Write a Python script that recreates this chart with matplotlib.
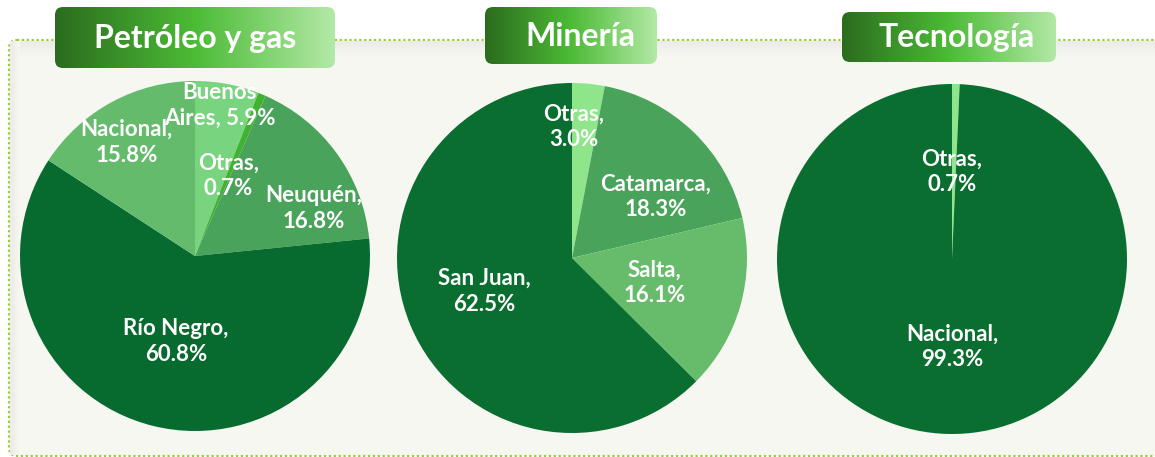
import numpy as np
import matplotlib
matplotlib.use("Agg")
import matplotlib.pyplot as plt
from matplotlib.patches import FancyBboxPatch
from matplotlib.colors import LinearSegmentedColormap

# ---------------- data ----------------
petroleo_names = ["Buenos Aires", "Otras", "Neuquén", "Río Negro", "Nacional"]
petroleo_values = [5.9, 0.7, 16.8, 60.8, 15.8]

mineria_names = ["Otras", "Catamarca", "Salta", "San Juan"]
mineria_values = [3.0, 18.3, 16.1, 62.5]

tecnologia_names = ["Otras", "Nacional"]
tecnologia_values = [0.7, 99.3]

titles = ["Petróleo y gas", "Minería", "Tecnología"]

# ---------------- style / layout ----------------
W, H = 1155, 457
DARK = "#076a2e"
petroleo_colors = ["#79d47f", "#3fb230", "#4aa35a", DARK, "#63bb6b"]
mineria_colors = ["#8fe58a", "#4aa35a", "#67bc6c", "#0a6e30"]
tecnologia_colors = ["#8fe58a", "#0a6e30"]

# label text anchor offsets (in pie radius units)
petroleo_lpos = [(0.14, 0.86), (0.19, 0.46), (0.68, 0.27), (-0.11, -0.49), (-0.39, 0.65)]
mineria_lpos = [(0.01, 0.75), (0.48, 0.35), (0.47, -0.14), (-0.50, -0.19)]
tecnologia_lpos = [(0.0, 0.50), (0.0, -0.50)]
petroleo_wrap = [True, False, False, False, False]

pie_centers = [(195, 256), (572, 258), (952, 259)]
pie_r = 175
title_boxes = [(55, 7, 280, 61), (485, 7, 172, 57), (842, 12, 214, 50)]
title_text_dx = [0, 9, 8]

fig = plt.figure(figsize=(W / 100, H / 100), dpi=100)
fig.patch.set_facecolor("white")

# background axes in pixel coordinates
bg = fig.add_axes([0, 0, 1, 1])
bg.set_xlim(0, W)
bg.set_ylim(H, 0)
bg.axis("off")

# panel background with dotted border
panel = FancyBboxPatch((9, 40), W + 20, 416, boxstyle="round,pad=0,rounding_size=8",
                       facecolor="#f7f7f2", edgecolor="#9acd32", linewidth=1.6,
                       linestyle=(0, (1, 1.2)), zorder=1)
bg.add_patch(panel)
# soft shadow under top border
shade = np.linspace(0, 1, 50).reshape(-1, 1)
shade_cmap = LinearSegmentedColormap.from_list("sh", ["#ebebe7", "#f7f7f2"])
bg.imshow(shade, extent=(11, W, 56, 41), cmap=shade_cmap, aspect="auto", zorder=1.5,
          interpolation="bilinear")
shade2 = np.linspace(0, 1, 50).reshape(1, -1)
bg.imshow(shade2, extent=(10, 20, 455, 41), cmap=shade_cmap, aspect="auto", zorder=1.5,
          interpolation="bilinear")

# title boxes with gradient
grad_cmap = LinearSegmentedColormap.from_list(
    "g", [(0.0, "#2b6c1e"), (0.5, "#4cbb36"), (1.0, "#b3e9a6")])
gradient = np.linspace(0, 1, 256).reshape(1, -1)
for (x, y, w, h), t, dx in zip(title_boxes, titles, title_text_dx):
    box = FancyBboxPatch((x, y), w, h, boxstyle="round,pad=0,rounding_size=8",
                         facecolor="none", edgecolor="none", zorder=3)
    bg.add_patch(box)
    im = bg.imshow(gradient, extent=(x, x + w, y + h, y), cmap=grad_cmap,
                   aspect="auto", zorder=3, interpolation="bilinear")
    im.set_clip_path(box)
    bg.text(x + w / 2 + dx, y + h / 2 + 1, t, color="white", fontsize=23,
            fontweight="bold", family="Lato", ha="center", va="center", zorder=4)


def draw_pie(center, values, names, colors, lpos, wrap=None):
    cx, cy = center
    ax = fig.add_axes([(cx - pie_r) / W, (H - cy - pie_r) / H, 2 * pie_r / W, 2 * pie_r / H])
    ax.pie(values, colors=colors, startangle=90, counterclock=False, radius=1,
           wedgeprops=dict(linewidth=0))
    ax.set_xlim(-1, 1)
    ax.set_ylim(-1, 1)
    ax.set_aspect("auto")
    ax.axis("off")
    for i, (n, v) in enumerate(zip(names, values)):
        if wrap is not None and wrap[i]:
            txt = n.replace(" ", "\n", 1) + f", {v:.1f}%"
        else:
            txt = f"{n},\n{v:.1f}%"
        x, y = lpos[i]
        ax.text(x, y, txt, color="white", fontsize=16, fontweight="bold",
                family="Lato", ha="center", va="center", linespacing=1.27, zorder=5)


draw_pie(pie_centers[0], petroleo_values, petroleo_names, petroleo_colors, petroleo_lpos,
         petroleo_wrap)
draw_pie(pie_centers[1], mineria_values, mineria_names, mineria_colors, mineria_lpos)
draw_pie(pie_centers[2], tecnologia_values, tecnologia_names, tecnologia_colors, tecnologia_lpos)

fig.savefig("out.png", dpi=100, facecolor="white")
